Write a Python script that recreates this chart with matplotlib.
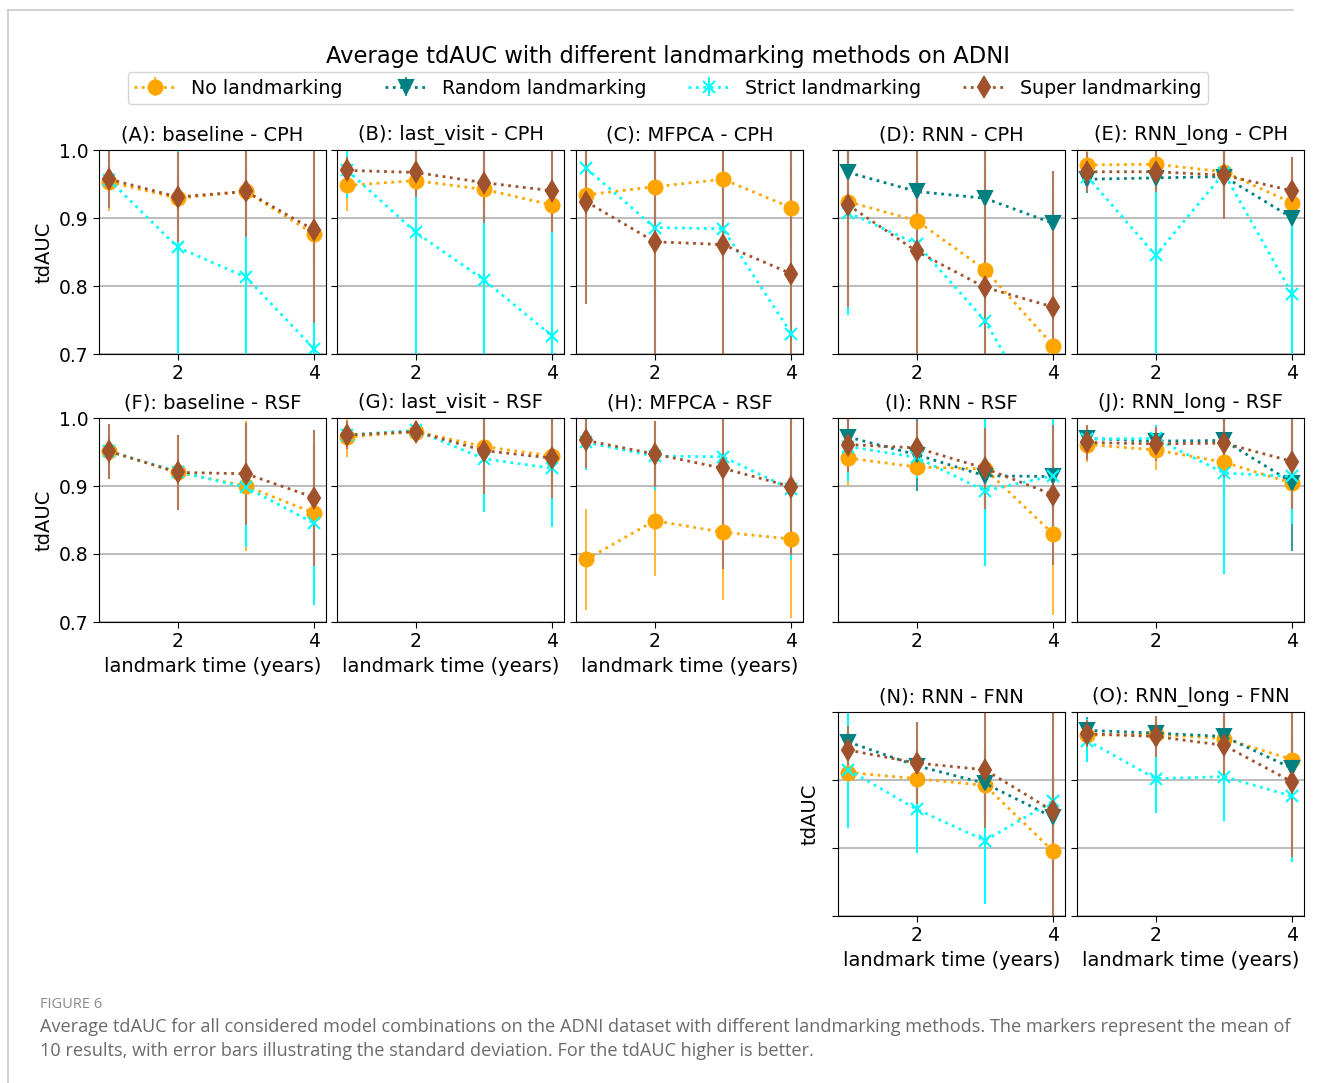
import matplotlib
matplotlib.use("Agg")
import matplotlib.pyplot as plt
from matplotlib.lines import Line2D
from matplotlib.colors import to_rgb

# ---------------- data ----------------
panel_titles = ["(A): baseline - CPH", "(B): last_visit - CPH", "(C): MFPCA - CPH",
                "(D): RNN - CPH", "(E): RNN_long - CPH",
                "(F): baseline - RSF", "(G): last_visit - RSF", "(H): MFPCA - RSF",
                "(I): RNN - RSF", "(J): RNN_long - RSF",
                "(N): RNN - FNN", "(O): RNN_long - FNN"]
landmark_times = [1, 2, 3, 4]
method_names = ["No landmarking", "Random landmarking", "Strict landmarking", "Super landmarking"]

no_lm_mean = [
    [0.953, 0.929, 0.939, 0.876], [0.948, 0.955, 0.942, 0.919], [0.934, 0.946, 0.957, 0.915],
    [0.924, 0.896, 0.824, 0.712], [0.978, 0.979, 0.968, 0.922],
    [0.951, 0.920, 0.900, 0.860], [0.972, 0.980, 0.958, 0.944], [0.792, 0.849, 0.832, 0.822],
    [0.941, 0.928, 0.925, 0.829], [0.961, 0.953, 0.935, 0.904],
    [0.911, 0.902, 0.892, 0.795], [0.966, 0.967, 0.961, 0.930]]
no_lm_std = [
    [0.043, 0.03, 0.03, 0.04], [0.037, 0.03, 0.03, 0.03], [0.05, 0.05, 0.05, 0.05],
    [0.05, 0.05, 0.05, 0.05], [0.02, 0.02, 0.03, 0.03],
    [0.04, 0.05, 0.095, 0.1], [0.03, 0.015, 0.04, 0.04], [0.074, 0.082, 0.099, 0.116],
    [0.041, 0.03, 0.05, 0.118], [0.025, 0.03, 0.05, 0.05],
    [0.04, 0.04, 0.05, 0.08], [0.02, 0.02, 0.03, 0.04]]

random_lm_mean = [
    None, None, None,
    [0.967, 0.939, 0.929, 0.892], [0.957, 0.959, 0.961, 0.900],
    None, None, None,
    [0.972, 0.946, 0.915, 0.914], [0.970, 0.966, 0.967, 0.905],
    [0.956, 0.921, 0.895, 0.845], [0.973, 0.969, 0.964, 0.917]]
random_lm_std = [
    None, None, None,
    [0.03, 0.03, 0.04, 0.05], [0.02, 0.02, 0.03, 0.028],
    None, None, None,
    [0.03, 0.054, 0.13, 0.05], [0.02, 0.02, 0.03, 0.1],
    [0.04, 0.04, 0.05, 0.06], [0.02, 0.02, 0.03, 0.04]]

strict_lm_mean = [
    [0.956, 0.857, 0.813, 0.707], [0.970, 0.879, 0.809, 0.726], [0.973, 0.886, 0.884, 0.730],
    [0.908, 0.862, 0.749, 0.574], [0.961, 0.845, 0.966, 0.788],
    [0.951, 0.921, 0.898, 0.845], [0.975, 0.982, 0.940, 0.926], [0.964, 0.944, 0.943, 0.895],
    [0.958, 0.942, 0.893, 0.915], [0.969, 0.970, 0.919, 0.914],
    [0.915, 0.857, 0.811, 0.869], [0.958, 0.902, 0.905, 0.876]]
strict_lm_std = [
    [0.02, 0.2, 0.19, 0.2], [0.04, 0.2, 0.2, 0.2], [0.05, 0.1, 0.1, 0.1],
    [0.151, 0.1, 0.1, 0.1], [0.02, 0.16, 0.04, 0.1],
    [0.01, 0.01, 0.088, 0.12], [0.01, 0.01, 0.078, 0.087], [0.04, 0.05, 0.06, 0.104],
    [0.05, 0.03, 0.11, 0.09], [0.01, 0.02, 0.149, 0.07],
    [0.085, 0.065, 0.094, 0.1], [0.032, 0.05, 0.066, 0.097]]

super_lm_mean = [
    [0.957, 0.931, 0.939, 0.882], [0.970, 0.967, 0.952, 0.940], [0.924, 0.865, 0.861, 0.818],
    [0.919, 0.851, 0.798, 0.769], [0.968, 0.968, 0.963, 0.940],
    [0.951, 0.920, 0.918, 0.883], [0.975, 0.980, 0.952, 0.941], [0.967, 0.947, 0.926, 0.899],
    [0.961, 0.956, 0.926, 0.887], [0.964, 0.962, 0.963, 0.936],
    [0.944, 0.925, 0.915, 0.854], [0.968, 0.964, 0.951, 0.897]]
super_lm_std = [
    [0.042, 0.066, 0.067, 0.137], [0.02, 0.036, 0.059, 0.06], [0.151, 0.2, 0.2, 0.2],
    [0.15, 0.2, 0.2, 0.2], [0.029, 0.03, 0.064, 0.05],
    [0.04, 0.055, 0.075, 0.1], [0.02, 0.015, 0.064, 0.058], [0.04, 0.048, 0.148, 0.1],
    [0.04, 0.04, 0.06, 0.103], [0.026, 0.025, 0.05, 0.07],
    [0.035, 0.06, 0.085, 0.2], [0.02, 0.03, 0.05, 0.11]]

y_ticks = [0.7, 0.8, 0.9, 1.0]
x_ticks = [2, 4]

# ---------------- styles ----------------
colors = ["#FFA500", "#008080", "#00FFFF", "#A0522D"]
markers = ["o", "v", "x", "d"]


def lighten(c, a=0.78):
    r, g, b = to_rgb(c)
    return (a * r + (1 - a), a * g + (1 - a), a * b + (1 - a))


W, H = 1321, 1083
fig = plt.figure(figsize=(W / 100, H / 100), dpi=100)
fig.patch.set_facecolor("white")

col_left = [99, 337, 576, 838, 1077]
row_top = [150, 418, 712]
ax_w, ax_h = 227, 204

positions = []
for r in range(2):
    for c in range(5):
        positions.append((r, c))
positions.append((2, 3))
positions.append((2, 4))

means = [no_lm_mean, random_lm_mean, strict_lm_mean, super_lm_mean]
stds = [no_lm_std, random_lm_std, strict_lm_std, super_lm_std]

legend_handles = None
for i, (r, c) in enumerate(positions):
    left = col_left[c] / W
    bottom = 1 - (row_top[r] + ax_h) / H
    ax = fig.add_axes([left, bottom, ax_w / W, ax_h / H])
    handles = []
    for m in range(4):
        mu = means[m][i]
        sd = stds[m][i]
        if mu is None:
            continue
        h = ax.errorbar(landmark_times, mu, yerr=sd, color=colors[m], marker=markers[m],
                        linestyle=":", linewidth=2, markersize=10 if m != 2 else 9,
                        markeredgewidth=1.5, ecolor=lighten(colors[m]) if m != 2 else colors[m],
                        elinewidth=1.5, capsize=0, label=method_names[m])
        handles.append(h)
    if len(handles) == 4 and legend_handles is None:
        legend_handles = handles
    ax.set_ylim(0.7, 1.0)
    ax.set_xlim(0.85, 4.17)
    ax.set_xticks(x_ticks)
    ax.set_yticks(y_ticks)
    ax.yaxis.grid(True, color="#b0b0b0", linewidth=1.2)
    ax.set_axisbelow(True)
    ax.tick_params(labelsize=13.5, length=4)
    ax.set_title(panel_titles[i], fontsize=14, pad=7)
    if c == 0 and r < 2:
        ax.set_ylabel("tdAUC", fontsize=14)
    else:
        ax.set_yticklabels([])
    if r == 2 and c == 3:
        ax.set_ylabel("tdAUC", fontsize=14, labelpad=6)
    if (r == 1 and c < 3) or r == 2:
        ax.set_xlabel("landmark time (years)", fontsize=14)

fig.text(668 / W, 1 - 57 / H, "Average tdAUC with different landmarking methods on ADNI",
         ha="center", va="center", fontsize=16.3)

fig.legend(legend_handles, method_names, loc="center", ncol=4,
           bbox_to_anchor=(668 / W, 1 - 88 / H), fontsize=13.7,
           handlelength=2.2, columnspacing=2.2, borderpad=0.35, handletextpad=0.8)

# frame lines of the page
fig.add_artist(Line2D([8 / W, 1293 / W], [1 - 10 / H, 1 - 10 / H], color="#c8c8c8", linewidth=1.2))
fig.add_artist(Line2D([8 / W, 8 / W], [1 - 10 / H, 0], color="#c8c8c8", linewidth=1.2))

# caption
fig.text(40 / W, 1 - 1004 / H, "FIGURE 6", ha="left", va="center", fontsize=10.5,
         color="#8a8a8a", family="Open Sans")
fig.text(40 / W, 1 - 1027 / H,
         "Average tdAUC for all considered model combinations on the ADNI dataset with different landmarking methods. The markers represent the mean of",
         ha="left", va="center", fontsize=13.1, color="#6a6a6a", family="Open Sans")
fig.text(40 / W, 1 - 1051 / H,
         "10 results, with error bars illustrating the standard deviation. For the tdAUC higher is better.",
         ha="left", va="center", fontsize=13.1, color="#6a6a6a", family="Open Sans")

fig.savefig("out.png", dpi=100)
